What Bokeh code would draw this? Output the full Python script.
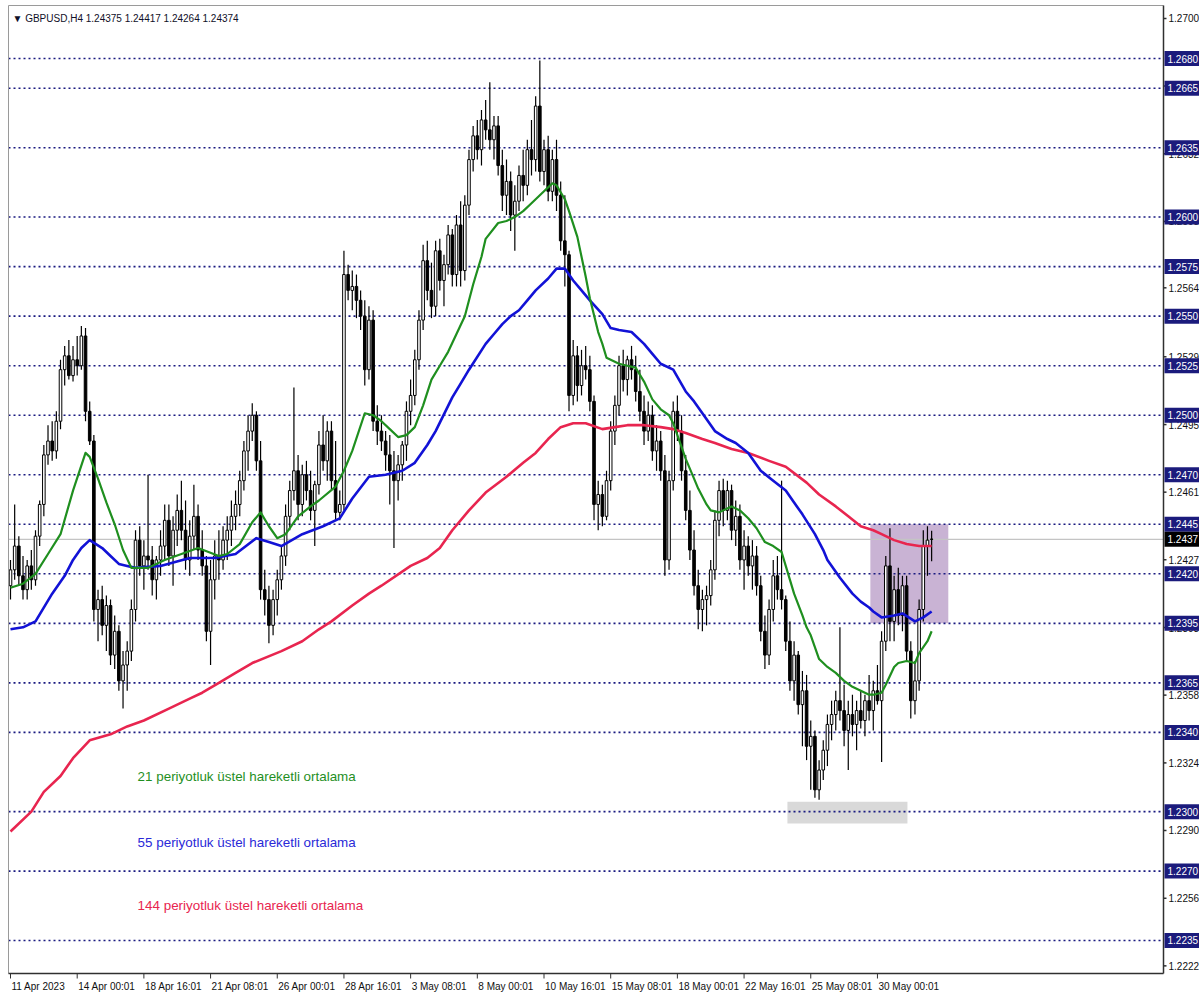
from bokeh.plotting import figure
from bokeh.models import Range1d, ColumnDataSource
from bokeh.core.properties import value
from bokeh.embed import file_html
from bokeh.resources import INLINE

# ---------------- data (GBPUSD H4) ----------------
opens = [
 1.2414,1.2422,1.2434,1.2419,1.2412,1.2424,1.2417,1.2439,1.2455,1.2480,
 1.2487,1.2482,1.2497,1.2523,1.2530,1.2520,1.2528,1.2525,1.2540,1.2502,
 1.2487,1.2402,1.2407,1.2394,1.2404,1.2379,1.2391,1.2366,1.2374,1.2381,
 1.2402,1.2437,1.2424,1.2429,1.2427,1.2417,1.2427,1.2434,1.2447,1.2429,
 1.2442,1.2452,1.2442,1.2427,1.2439,1.2449,1.2432,1.2424,1.2391,1.2417,
 1.2429,1.2427,1.2437,1.2442,1.2449,1.2455,1.2467,1.2482,1.2492,1.2500,
 1.2477,1.2412,1.2407,1.2394,1.2407,1.2417,1.2429,1.2449,1.2462,1.2472,
 1.2455,1.2470,1.2462,1.2452,1.2465,1.2485,1.2477,1.2492,1.2467,1.2451,
 1.2455,1.2571,1.2563,1.2565,1.2558,1.2550,1.2523,1.2548,1.2497,1.2492,
 1.2487,1.2480,1.2472,1.2467,1.2475,1.2485,1.2502,1.2510,1.2528,1.2548,
 1.2578,1.2563,1.2555,1.2583,1.2568,1.2576,1.2591,1.2571,1.2596,1.2573,
 1.2606,1.2629,1.2641,1.2634,1.2649,1.2644,1.2639,1.2646,1.2626,1.2611,
 1.2618,1.2601,1.2608,1.2621,1.2616,1.2634,1.2629,1.2656,1.2623,1.2634,
 1.2613,1.2629,1.2611,1.2588,1.2581,1.2510,1.2530,1.2515,1.2525,1.2523,
 1.2507,1.2455,1.2460,1.2449,1.2467,1.2492,1.2505,1.2525,1.2518,1.2528,
 1.2523,1.2512,1.2502,1.2492,1.2500,1.2482,1.2487,1.2472,1.2427,1.2467,
 1.2502,1.2492,1.2472,1.2452,1.2432,1.2414,1.2402,1.2407,1.2409,1.2422,
 1.2447,1.2462,1.2452,1.2462,1.2442,1.2449,1.2427,1.2434,1.2424,1.2429,
 1.2414,1.2391,1.2379,1.2402,1.2419,1.2412,1.2407,1.2386,1.2366,1.2379,
 1.2354,1.2361,1.2333,1.2338,1.2311,1.2321,1.2331,1.2344,1.2349,1.2356,
 1.2351,1.2341,1.2349,1.2344,1.2351,1.2346,1.2356,1.2351,1.2361,1.2356,
 1.2386,1.2424,1.2396,1.2412,1.2399,1.2414,1.2381,1.2356,1.2366,1.2402,
 1.2434,1.24375]
highs = [
 1.2427,1.2455,1.2439,1.2429,1.2427,1.2432,1.2442,1.2457,1.2485,1.2495,
 1.2497,1.2502,1.2528,1.2535,1.2538,1.2535,1.2540,1.2545,1.2544,1.2507,
 1.2490,1.2412,1.2414,1.2409,1.2407,1.2399,1.2394,1.2381,1.2386,1.2407,
 1.2442,1.2444,1.2437,1.2470,1.2434,1.2429,1.2442,1.2455,1.2455,1.2449,
 1.2460,1.2467,1.2457,1.2447,1.2465,1.2455,1.2442,1.2429,1.2427,1.2437,
 1.2442,1.2444,1.2449,1.2457,1.2462,1.2472,1.2487,1.2500,1.2506,1.2502,
 1.2487,1.2422,1.2414,1.2412,1.2422,1.2434,1.2455,1.2467,1.2514,1.2480,
 1.2475,1.2477,1.2472,1.2467,1.2492,1.2500,1.2497,1.2497,1.2487,1.2462,
 1.2583,1.2576,1.2573,1.2571,1.2563,1.2558,1.2555,1.2553,1.2505,1.2500,
 1.2492,1.2490,1.2482,1.2480,1.2487,1.2507,1.2518,1.2533,1.2553,1.2586,
 1.2588,1.2577,1.2588,1.2589,1.2581,1.2596,1.2594,1.2601,1.2608,1.2611,
 1.2634,1.2646,1.2649,1.2654,1.2659,1.2668,1.2651,1.2651,1.2634,1.2629,
 1.2623,1.2616,1.2626,1.2634,1.2639,1.2649,1.2661,1.2679,1.2639,1.2641,
 1.2634,1.2639,1.2618,1.2611,1.2583,1.2538,1.2535,1.2533,1.2535,1.2530,
 1.2510,1.2467,1.2465,1.2472,1.2497,1.2510,1.2530,1.2533,1.2530,1.2535,
 1.2530,1.2523,1.2510,1.2507,1.2505,1.2495,1.2492,1.2480,1.2472,1.2507,
 1.2510,1.2500,1.2480,1.2462,1.2442,1.2422,1.2412,1.2414,1.2427,1.2452,
 1.2467,1.2468,1.2467,1.2465,1.2457,1.2455,1.2442,1.2439,1.2437,1.2434,
 1.2419,1.2399,1.2407,1.2427,1.2429,1.2467,1.2409,1.2396,1.2386,1.2381,
 1.2371,1.2369,1.2346,1.2341,1.2326,1.2336,1.2349,1.2356,1.2361,1.2393,
 1.2364,1.2356,1.2359,1.2356,1.2361,1.2359,1.2369,1.2366,1.2374,1.2391,
 1.2429,1.2443,1.2419,1.2423,1.2419,1.2419,1.2386,1.2376,1.2407,1.2442,
 1.2444,1.24417]
lows = [
 1.2407,1.2417,1.2414,1.2407,1.2407,1.2412,1.2414,1.2434,1.2449,1.2475,
 1.2477,1.2478,1.2493,1.2515,1.2518,1.2517,1.2520,1.2523,1.2497,1.2485,
 1.2396,1.2386,1.2389,1.2381,1.2374,1.2372,1.2361,1.2352,1.2361,1.2376,
 1.2396,1.2419,1.2412,1.2422,1.2409,1.2407,1.2419,1.2427,1.2424,1.2414,
 1.2434,1.2437,1.2422,1.2419,1.2432,1.2427,1.2419,1.2386,1.2374,1.2407,
 1.2417,1.2422,1.2427,1.2434,1.2442,1.2449,1.2462,1.2472,1.2487,1.2472,
 1.2407,1.2399,1.2385,1.2389,1.2399,1.2412,1.2424,1.2442,1.2457,1.2447,
 1.2449,1.2457,1.2447,1.2434,1.2460,1.2472,1.2467,1.2462,1.2447,1.2447,
 1.2452,1.2558,1.2553,1.2549,1.2543,1.2515,1.2518,1.2492,1.2485,1.2482,
 1.2472,1.2455,1.2433,1.2457,1.2467,1.2477,1.2495,1.2505,1.2523,1.2543,
 1.2558,1.2549,1.2550,1.2563,1.2555,1.2571,1.2565,1.2565,1.2565,1.2568,
 1.2601,1.2623,1.2629,1.2626,1.2639,1.2634,1.2629,1.2621,1.2603,1.2601,
 1.2593,1.2583,1.2603,1.2608,1.2611,1.2621,1.2623,1.2618,1.2616,1.2608,
 1.2608,1.2603,1.2583,1.2565,1.2502,1.2505,1.2507,1.2510,1.2518,1.2502,
 1.2447,1.2442,1.2444,1.2447,1.2462,1.2485,1.2500,1.2512,1.2510,1.2518,
 1.2507,1.2497,1.2485,1.2487,1.2477,1.2472,1.2467,1.2419,1.2422,1.2462,
 1.2487,1.2467,1.2447,1.2427,1.2409,1.2392,1.2391,1.2394,1.2404,1.2417,
 1.2439,1.2444,1.2447,1.2437,1.2434,1.2422,1.2412,1.2419,1.2412,1.2409,
 1.2386,1.2372,1.2374,1.2396,1.2407,1.2402,1.2381,1.2361,1.2356,1.2349,
 1.2333,1.2326,1.2311,1.2307,1.2306,1.2316,1.2323,1.2336,1.2341,1.2346,
 1.2333,1.2321,1.2338,1.2331,1.2342,1.2338,1.2346,1.2341,1.2354,1.2325,
 1.2381,1.2386,1.2386,1.2394,1.2391,1.2376,1.2347,1.2349,1.2361,1.2396,
 1.2419,1.24264]
closes = [
 1.2422,1.2434,1.2419,1.2412,1.2424,1.2417,1.2439,1.2455,1.2480,1.2487,
 1.2482,1.2497,1.2523,1.2530,1.2520,1.2528,1.2525,1.2540,1.2502,1.2487,
 1.2402,1.2407,1.2394,1.2404,1.2379,1.2391,1.2366,1.2374,1.2381,1.2402,
 1.2437,1.2424,1.2429,1.2427,1.2417,1.2427,1.2434,1.2447,1.2429,1.2442,
 1.2452,1.2442,1.2427,1.2439,1.2449,1.2432,1.2424,1.2391,1.2417,1.2429,
 1.2427,1.2437,1.2442,1.2449,1.2455,1.2467,1.2482,1.2492,1.2500,1.2477,
 1.2412,1.2407,1.2394,1.2407,1.2417,1.2429,1.2449,1.2462,1.2472,1.2455,
 1.2470,1.2462,1.2452,1.2465,1.2485,1.2477,1.2492,1.2467,1.2451,1.2455,
 1.2571,1.2563,1.2565,1.2558,1.2550,1.2523,1.2548,1.2497,1.2492,1.2487,
 1.2480,1.2472,1.2467,1.2475,1.2485,1.2502,1.2510,1.2528,1.2548,1.2578,
 1.2563,1.2555,1.2583,1.2568,1.2576,1.2591,1.2571,1.2596,1.2573,1.2606,
 1.2629,1.2641,1.2634,1.2649,1.2644,1.2639,1.2646,1.2626,1.2611,1.2618,
 1.2601,1.2608,1.2621,1.2616,1.2634,1.2629,1.2656,1.2623,1.2634,1.2613,
 1.2629,1.2611,1.2588,1.2581,1.2510,1.2530,1.2515,1.2525,1.2523,1.2507,
 1.2455,1.2460,1.2449,1.2467,1.2492,1.2505,1.2525,1.2518,1.2528,1.2523,
 1.2512,1.2502,1.2492,1.2500,1.2482,1.2487,1.2472,1.2427,1.2467,1.2502,
 1.2492,1.2472,1.2452,1.2432,1.2414,1.2402,1.2407,1.2409,1.2422,1.2447,
 1.2462,1.2452,1.2462,1.2442,1.2449,1.2427,1.2434,1.2424,1.2429,1.2414,
 1.2391,1.2379,1.2402,1.2419,1.2412,1.2407,1.2386,1.2366,1.2379,1.2354,
 1.2361,1.2333,1.2338,1.2311,1.2321,1.2331,1.2344,1.2349,1.2356,1.2351,
 1.2341,1.2349,1.2344,1.2351,1.2346,1.2356,1.2351,1.2361,1.2356,1.2386,
 1.2424,1.2396,1.2412,1.2399,1.2414,1.2381,1.2356,1.2366,1.2402,1.2434,
 1.2437,1.24374]

ema21_bar = [0,3,6,9,12,15,18,19,21,23,25,27,29,33,37,41,45,50,52,55,58,60,62,64,66,69,72,74,
             78,80,82,85,87,89,91,93,95,97,99,101,103,105,107,109,111,113,114,117,119,121,123,
             125,128,130,131,133,134,136,138,139,141,142,143,146,148,150,152,154,156,158,159,
             160,162,164,165,167,168,170,173,175,177,179,181,183,185,186,188,190,191,192,194,
             196,198,200,202,204,206,207,209,210,212,213,215,217,218,220,221]
ema21 = [1.2413,1.2415,1.2420,1.2430,1.2440,1.2462,1.2481,1.2479,1.2468,1.2456,1.2445,1.2432,
         1.2423,1.2423,1.2427,1.2430,1.2433,1.2429,1.2430,1.2435,1.2446,1.2451,1.2444,1.2438,
         1.2440,1.2449,1.2454,1.2457,1.2464,1.2472,1.2482,1.2501,1.2500,1.2497,1.2493,1.2489,
         1.2490,1.2494,1.2505,1.2518,1.2525,1.2532,1.2541,1.2550,1.2566,1.2580,1.2589,1.2597,
         1.2598,1.2600,1.2603,1.2607,1.2613,1.2617,1.2616,1.2609,1.2603,1.2590,1.2570,1.2559,
         1.2542,1.2536,1.2529,1.2526,1.2525,1.2524,1.2517,1.2508,1.2503,1.2500,1.2496,1.2490,
         1.2478,1.2468,1.2463,1.2455,1.2452,1.2451,1.2454,1.2452,1.2448,1.2443,1.2436,1.2434,
         1.2431,1.2424,1.2410,1.2399,1.2393,1.2389,1.2377,1.2373,1.2370,1.2366,1.2363,1.2361,
         1.2359,1.2359,1.2360,1.2364,1.2373,1.2375,1.2376,1.2375,1.2380,1.2386,1.2391]

ema55_bar = [0,3,6,10,13,15,17,19,22,24,26,28,30,36,43,46,49,54,59,62,65,70,75,79,82,86,90,94,
             97,100,102,106,108,110,114,116,118,120,122,124,126,129,131,133,135,137,139,142,144,
             146,149,152,154,156,159,162,164,166,169,172,174,177,180,183,186,188,190,193,195,
             196,199,202,204,206,207,209,212,214,217,219,221]
ema55 = [1.2392,1.2393,1.2396,1.2410,1.2419,1.2427,1.2433,1.2437,1.2433,1.2429,1.2425,1.2424,
         1.2423,1.2424,1.2428,1.2428,1.2428,1.2430,1.2438,1.2436,1.2434,1.2440,1.2444,1.2448,
         1.2458,1.2469,1.2470,1.2472,1.2476,1.2485,1.2492,1.2509,1.2516,1.2523,1.2536,1.2541,
         1.2546,1.2550,1.2553,1.2558,1.2563,1.2569,1.2574,1.2574,1.2568,1.2563,1.2558,1.2551,
         1.2544,1.2543,1.2542,1.2536,1.2531,1.2526,1.2523,1.2512,1.2507,1.2501,1.2492,1.2488,
         1.2486,1.2481,1.2472,1.2467,1.2462,1.2456,1.2450,1.2440,1.2432,1.2427,1.2418,1.2410,
         1.2406,1.2403,1.2401,1.2398,1.2399,1.2400,1.2396,1.2398,1.2401]

ema144_bar = [0,5,8,12,15,19,24,28,32,38,43,46,50,54,58,65,70,74,77,82,86,89,96,100,103,106,
              110,114,119,123,126,129,132,135,138,142,145,148,152,156,159,162,166,169,173,177,
              182,186,191,194,198,201,204,207,209,212,215,218,221]
ema144 = [1.2290,1.2300,1.2310,1.2318,1.2327,1.2336,1.2339,1.2343,1.2346,1.2352,1.2357,1.2360,
          1.2365,1.2370,1.2375,1.2381,1.2386,1.2392,1.2396,1.2404,1.2410,1.2414,1.2424,1.2428,
          1.2433,1.2442,1.2452,1.2461,1.2469,1.2476,1.2481,1.2488,1.2494,1.2496,1.2496,1.2493,
          1.2494,1.2495,1.2495,1.2494,1.2493,1.2491,1.2488,1.2486,1.2483,1.2481,1.2477,1.2474,
          1.2466,1.2460,1.2454,1.2449,1.2444,1.2442,1.2440,1.2437,1.2435,1.2434,1.2434]

time_tick_bars = [0,16,32,48,64,80,96,112,128,144,160,176,192,208]
time_tick_labels = ["11 Apr 2023","14 Apr 00:01","18 Apr 16:01","21 Apr 08:01","26 Apr 00:01",
                    "28 Apr 16:01","3 May 08:01","8 May 00:01","10 May 16:01","15 May 08:01",
                    "18 May 00:01","22 May 16:01","25 May 08:01","30 May 00:01"]

price_scale = [1.22222,1.22563,1.22905,1.23246,1.23588,1.23929,1.24271,1.24612,
               1.24953,1.25295,1.25643,1.25978,1.26319,1.26661,1.27002]
price_scale_labels = ["1.2222","1.2256","1.2290","1.2324","1.2358","1.2393","1.2427",
                      "1.2461","1.2495","1.2529","1.2564","1.2598","1.2632","1.2666",
                      "1.2700"]

levels = [1.2680,1.2665,1.2635,1.2600,1.2575,1.2550,1.2525,1.2500,1.2470,
          1.2445,1.2420,1.2395,1.2365,1.2340,1.2300,1.2270,1.2235]
level_labels = ["1.2680","1.2665","1.2635","1.2600","1.2575","1.2550","1.2525",
                "1.2500","1.2470","1.2445","1.2420","1.2395","1.2365","1.2340",
                "1.2300","1.2270","1.2235"]

current_price = 1.24374
current_label = "1.2437"
title_text = "\u25bc GBPUSD,H4  1.24375 1.24417 1.24264 1.24374"

zone_purple = dict(left=[206.3], right=[225.0], bottom=[1.2395], top=[1.2445])
zone_gray = dict(left=[186.4], right=[215.2], bottom=[1.2294], top=[1.2305])

note_texts = ["21 periyotluk \u00fcstel hareketli ortalama",
              "55 periyotluk \u00fcstel hareketli ortalama",
              "144 periyotluk \u00fcstel hareketli ortalama"]
note_prices = [1.23178, 1.22845, 1.22527]
note_bar = 30.5

# ---------------- layout (pixel geometry of the terminal window) ----------------
W, H = 1199, 1000
PX_PER_BAR = 4.168
BAR0_PX = 10.0
REF_PRICE, REF_PY, PX_PER_PRICE = 1.2680, 58.0, 19820.0
FRAME_L, FRAME_R, FRAME_T, FRAME_B = 8, 1163, 5, 973
FONT = value("Liberation Sans")


def X(px):
    return (px - BAR0_PX) / PX_PER_BAR


def Y(py):
    return REF_PRICE - (py - REF_PY) / PX_PER_PRICE


def DY(dpx):
    return dpx / PX_PER_PRICE


C21, C55, C144 = "#1f8f1f", "#1212d6", "#e8254f"

p = figure(width=W, height=H, output_backend="svg", toolbar_location=None,
           x_range=Range1d(X(0), X(W)), y_range=Range1d(Y(H), Y(0)),
           x_axis_location=None, y_axis_location=None,
           min_border=0, min_border_left=0, min_border_right=0,
           min_border_top=0, min_border_bottom=0)
p.xgrid.visible = False
p.ygrid.visible = False
p.outline_line_color = None
p.background_fill_color = "white"
p.border_fill_color = "white"

# zones
p.quad(source=ColumnDataSource(zone_purple), left="left", right="right", top="top",
       bottom="bottom", fill_color="#c9b3d4", line_color=None)
p.quad(source=ColumnDataSource(zone_gray), left="left", right="right", top="top",
       bottom="bottom", fill_color="#d9d9d9", line_color=None)

# level lines
n = len(levels)
p.segment(x0=[X(FRAME_L)] * n, x1=[X(FRAME_R)] * n, y0=levels, y1=levels,
          line_color="#1a1a80", line_width=1.6, line_dash="2 3")
p.segment(x0=[X(FRAME_L)], x1=[X(FRAME_R)], y0=[current_price], y1=[current_price],
          line_color="#c4c4c4", line_width=1.2)

# candles
bars = list(range(len(closes)))
up_idx = [i for i in bars if closes[i] >= opens[i]]
dn_idx = [i for i in bars if closes[i] < opens[i]]
wick_src = ColumnDataSource(dict(x=bars, h=highs, l=lows))
p.segment(x0="x", y0="h", x1="x", y1="l", source=wick_src, line_color="black", line_width=1.2)
up_src = ColumnDataSource(dict(x=up_idx, top=[closes[i] for i in up_idx],
                               bottom=[opens[i] for i in up_idx]))
dn_src = ColumnDataSource(dict(x=dn_idx, top=[opens[i] for i in dn_idx],
                               bottom=[closes[i] for i in dn_idx]))
p.vbar(x="x", top="top", bottom="bottom", width=0.62, source=up_src,
       fill_color="white", line_color="black", line_width=1)
p.vbar(x="x", top="top", bottom="bottom", width=0.62, source=dn_src,
       fill_color="black", line_color="black", line_width=1)

# moving averages
p.line(ema144_bar, ema144, line_color=C144, line_width=2.6, line_join="round")
p.line(ema55_bar, ema55, line_color=C55, line_width=2.6, line_join="round")
p.line(ema21_bar, ema21, line_color=C21, line_width=2.2, line_join="round")

# frame border and axes lines
p.segment(x0=[X(FRAME_L), X(FRAME_L)], y0=[Y(FRAME_T), Y(FRAME_T)],
          x1=[X(FRAME_L), X(FRAME_R)], y1=[Y(FRAME_B), Y(FRAME_T)],
          line_color="#9a9a9a", line_width=1)
p.segment(x0=[X(FRAME_R), X(FRAME_L)], y0=[Y(FRAME_T), Y(FRAME_B)],
          x1=[X(FRAME_R), X(FRAME_R)], y1=[Y(FRAME_B), Y(FRAME_B)],
          line_color="#303030", line_width=1.5)

# bottom ticks and labels
k = len(time_tick_bars)
p.segment(x0=time_tick_bars, x1=time_tick_bars, y0=[Y(FRAME_B)] * k, y1=[Y(FRAME_B + 5)] * k,
          line_color="#303030", line_width=1)
p.text(x=time_tick_bars, y=[Y(FRAME_B + 7)] * k, text=time_tick_labels, x_offset=1,
       text_font=FONT, text_font_size="10px", text_color="#101010",
       text_baseline="top", text_align="left")

# right price scale ticks and labels
m = len(price_scale)
p.segment(x0=[X(FRAME_R)] * m, x1=[X(FRAME_R + 3)] * m, y0=price_scale, y1=price_scale,
          line_color="#303030", line_width=1.5)
p.text(x=[X(FRAME_R + 5)] * m, y=price_scale, text=price_scale_labels,
       text_font=FONT, text_font_size="10px", text_color="#101010",
       text_baseline="middle", text_align="left")

# level boxes on the price scale
p.quad(left=[X(FRAME_R + 1)] * n, right=[X(W + 5)] * n,
       top=[lv + DY(7.5) for lv in levels], bottom=[lv - DY(7.5) for lv in levels],
       fill_color="#1b1b7c", line_color=None)
p.text(x=[X(FRAME_R + 4)] * n, y=levels, text=level_labels,
       text_font=FONT, text_font_size="10px", text_color="white",
       text_baseline="middle", text_align="left")
p.quad(left=[X(FRAME_R + 1)], right=[X(W + 5)],
       top=[current_price + DY(7.5)], bottom=[current_price - DY(7.5)],
       fill_color="black", line_color=None)
p.text(x=[X(FRAME_R + 4)], y=[current_price], text=[current_label],
       text_font=FONT, text_font_size="10px", text_color="white",
       text_baseline="middle", text_align="left")

# notes
p.text(x=[note_bar] * 3, y=note_prices, text=note_texts,
       text_color=[C21, "#2a2ad8", C144], text_font=FONT, text_font_size="13.4px",
       text_baseline="middle", text_align="left")

# title
p.text(x=[X(12)], y=[Y(18)], text=[title_text], text_font=FONT, text_font_size="10px",
       text_color="#101028", text_baseline="middle", text_align="left")

open("out.html", "w").write(file_html(p, INLINE))
